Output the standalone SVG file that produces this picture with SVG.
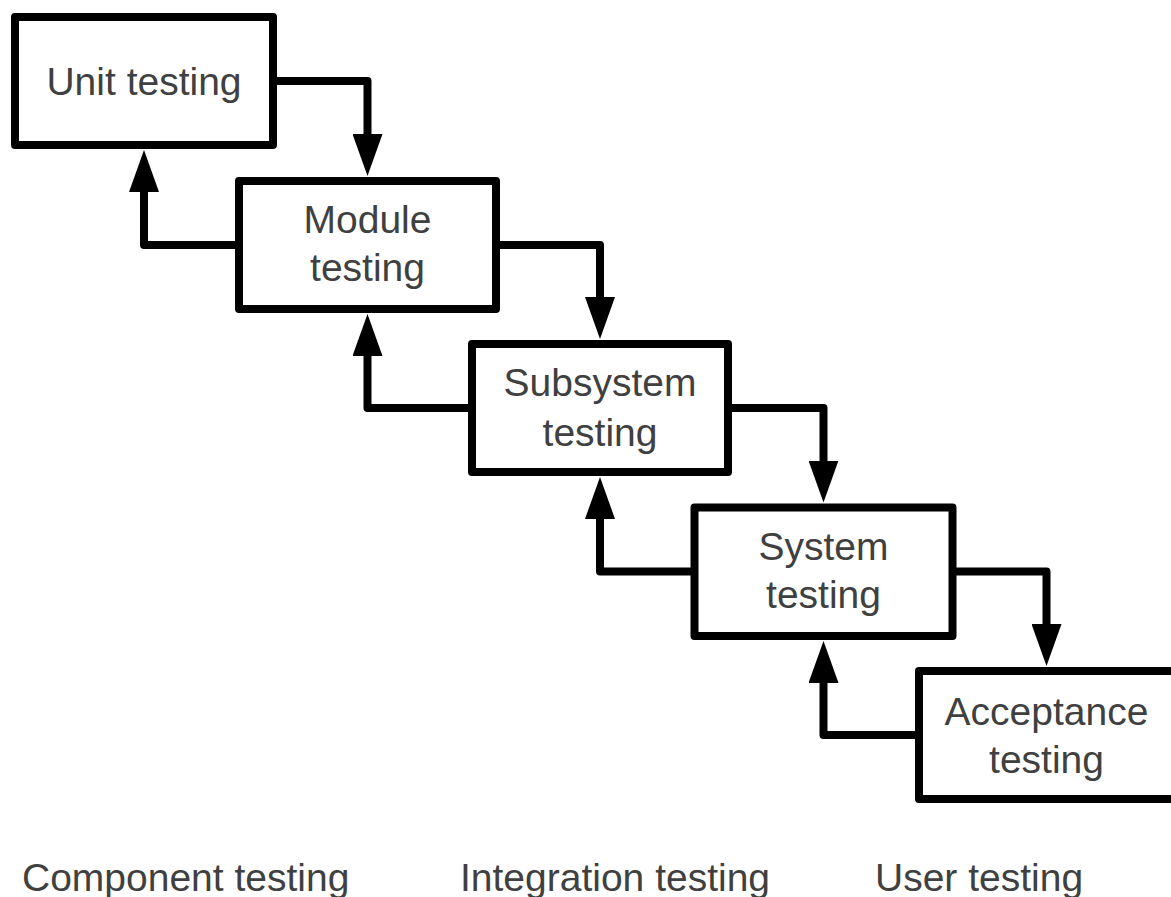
<svg xmlns="http://www.w3.org/2000/svg" width="1171" height="897" viewBox="0 0 1171 897">
  <style>
    .box { fill: #ffffff; stroke: #000000; stroke-width: 8; stroke-linejoin: round; }
    .lbl { font-family: "Liberation Sans", Arial, sans-serif; font-size: 39px; fill: #404040; text-anchor: middle; }
    .cap { font-family: "Liberation Sans", Arial, sans-serif; font-size: 39px; fill: #404040; }
    .conn { fill: none; stroke: #000000; stroke-width: 8; stroke-linejoin: round; marker-end: url(#ah); }
  </style>
  <defs>
    <marker id="ah" viewBox="0 0 42 30" refX="1" refY="15" markerWidth="42" markerHeight="30" markerUnits="userSpaceOnUse" orient="auto">
      <path d="M0,0 L42,15 L0,30 Z" fill="#000000"/>
    </marker>
  </defs>
  <rect width="1171" height="897" fill="#ffffff"/>

  <g id="connectors">
    <!-- forward (down) arrows -->
    <path class="conn" d="M272,81 H367.5 V135"/>
    <path class="conn" d="M496,245 H600 V298"/>
    <path class="conn" d="M728,408 H823.5 V461.5"/>
    <path class="conn" d="M952.5,571.5 H1046.5 V625"/>
    <!-- backward (up) arrows -->
    <path class="conn" d="M239,245 H144 V191"/>
    <path class="conn" d="M472,408 H367.5 V355"/>
    <path class="conn" d="M694.5,571.5 H600 V518"/>
    <path class="conn" d="M919,735 H823.5 V682"/>
  </g>

  <g id="unit">
    <rect class="box" x="15" y="17" width="258" height="128"/>
    <text class="lbl" x="144" y="95">Unit testing</text>
  </g>
  <g id="module">
    <rect class="box" x="239" y="181" width="257" height="128"/>
    <text class="lbl" x="367.5" y="233">Module</text>
    <text class="lbl" x="367.5" y="281">testing</text>
  </g>
  <g id="subsystem">
    <rect class="box" x="472" y="344" width="256" height="128"/>
    <text class="lbl" x="600" y="396">Subsystem</text>
    <text class="lbl" x="600" y="446">testing</text>
  </g>
  <g id="system">
    <rect class="box" x="694.5" y="507.5" width="258" height="128.5"/>
    <text class="lbl" x="823.5" y="560">System</text>
    <text class="lbl" x="823.5" y="608">testing</text>
  </g>
  <g id="acceptance">
    <rect class="box" x="919" y="671" width="258" height="128"/>
    <text class="lbl" x="1046.5" y="725">Acceptance</text>
    <text class="lbl" x="1046.5" y="773">testing</text>
  </g>

  <g id="captions">
    <text class="cap" x="22" y="891">Component testing</text>
    <text class="cap" x="460" y="891">Integration testing</text>
    <text class="cap" x="875" y="891">User testing</text>
  </g>
</svg>
